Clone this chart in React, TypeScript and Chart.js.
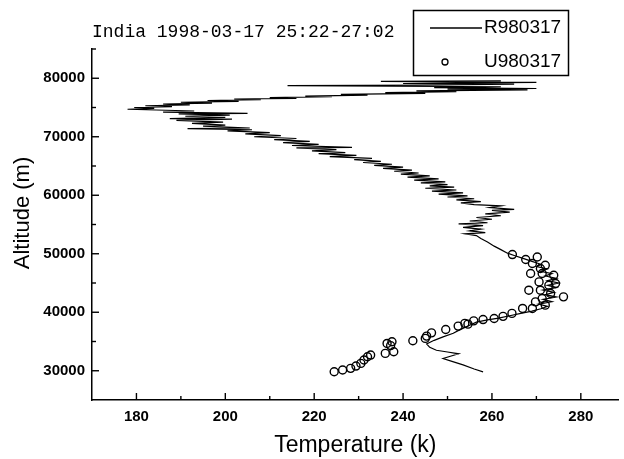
import React, { useEffect, useRef } from "react";
import { Chart, registerables } from "chart.js";

Chart.register(...registerables);

const titleText = "India 1998-03-17 25:22-27:02";
const seriesNames = ["R980317", "U980317"];
const xTitle = "Temperature (k)";
const yTitle = "Altitude (m)";

const xTickLabels = [180, 200, 220, 240, 260, 280];
const xMinorTicks = [190, 210, 230, 250, 270];
const yTickLabels = [30000, 40000, 50000, 60000, 70000, 80000];
const yMinorTicks = [35000, 45000, 55000, 65000, 75000, 85000];

// R980317 profile (temperature K, altitude m)
const rTemp = [
  258.0, 256.0, 253.5, 251.0, 249.0, 252.5, 250.0, 247.5, 246.0, 245.3,
  247.0, 249.0, 251.3, 252.5, 254.5, 256.5, 259.0, 261.5, 264.0, 266.5,
  269.0, 271.0, 272.5, 270.5, 273.5, 271.5, 274.5, 272.0, 274.0, 271.5,
  274.5, 272.5, 275.0, 272.5, 274.5, 272.0, 273.5, 271.0, 272.5, 270.0,
  271.0, 269.0, 267.0, 265.0, 263.5, 262.0, 260.5, 259.0, 257.5, 256.5,
  254.0, 258.5, 255.0, 257.5, 253.5, 258.0, 252.5, 259.0, 255.0, 260.0,
  256.5, 262.0, 258.5, 264.0, 260.0, 265.0, 259.5, 262.0, 256.0, 253.0,
  257.5, 252.0, 256.0, 250.0, 254.5, 248.0, 253.5, 246.5, 252.0, 245.0,
  251.5, 246.0, 250.0, 244.0, 249.5, 242.5, 248.0, 241.0, 246.0, 239.5,
  243.5, 238.0, 242.0, 235.5, 240.0, 233.5, 237.5, 231.0, 235.0, 229.0,
  233.0, 223.5, 229.5, 221.0, 227.0, 219.5, 225.0, 216.0, 228.5, 215.0,
  221.0, 213.0, 219.0, 211.0, 216.0, 206.5, 212.5, 204.5, 210.0, 200.5,
  206.0, 191.5, 205.5, 195.0, 200.0, 192.5, 199.5, 189.0, 201.5, 187.5,
  200.0, 191.0, 201.0, 189.5, 205.0, 186.0, 193.0, 178.0, 184.0, 179.5,
  188.0, 182.0, 192.0, 186.0, 197.0, 190.0, 203.0, 196.0, 208.0, 202.0,
  216.0, 210.0, 224.0, 218.0, 232.0, 226.0, 245.0, 236.0, 252.0, 243.0,
  268.0, 250.0, 270.0, 247.0, 262.0, 214.0, 248.0, 265.0, 240.0, 270.0,
  235.0, 262.0,
];
const rAlt = [
  29800, 30300, 31000, 31600, 32100, 32900, 33200, 33500, 34000, 34600,
  35200, 35800, 36400, 36900, 37600, 38300, 38700, 39000, 39400, 39800,
  40200, 40600, 41000, 41400, 41800, 42200, 42600, 43000, 43400, 43800,
  44200, 44600, 45000, 45400, 45800, 46200, 46600, 47000, 47400, 47800,
  48200, 48700, 49200, 49700, 50100, 50700, 51300, 52000, 52600, 53100,
  53400, 53600, 53900, 54200, 54500, 54800, 55100, 55300, 55600, 55900,
  56200, 56500, 56800, 57100, 57400, 57600, 57900, 58200, 58400, 58700,
  58900, 59200, 59400, 59700, 59900, 60200, 60400, 60700, 60900, 61200,
  61400, 61600, 61800, 62100, 62300, 62600, 62800, 63100, 63300, 63600,
  63800, 64100, 64300, 64600, 64800, 65100, 65300, 65600, 65800, 66100,
  66300, 66600, 66800, 67100, 67300, 67600, 67800, 68100, 68200, 68500,
  68700, 69000, 69200, 69500, 69700, 70000, 70200, 70500, 70700, 71000,
  71200, 71400, 71500, 71800, 72000, 72300, 72500, 72800, 73000, 73100,
  73300, 73500, 73700, 73900, 74000, 74200, 74400, 74700, 74850, 75000,
  75150, 75300, 75450, 75600, 75750, 75900, 76050, 76200, 76350, 76450,
  76550, 76700, 76850, 76950, 77100, 77250, 77400, 77550, 77700, 77850,
  78000, 78150, 78250, 78400, 78550, 78750, 78850, 79000, 79100, 79300,
  79450, 79550,
];

// U980317 points (temperature K, altitude m)
const uTemp = [
  224.5, 226.4, 228.2, 229.4, 230.5, 231.2, 232.0, 232.7, 236.0, 237.9,
  236.4, 237.5, 237.2, 242.2, 245.0, 245.3, 246.4, 249.6, 252.4, 253.9,
  254.6, 255.9, 258.0, 260.5, 262.5, 264.5, 266.9, 269.1, 269.8, 272.0,
  271.3, 276.1, 273.2, 268.3, 270.9, 272.8, 274.3, 270.6, 273.9, 271.3,
  268.7, 270.9, 272.0, 269.1, 267.6, 270.2, 264.6,
];
const uAlt = [
  29830, 30120, 30410, 30800, 31260, 31830, 32390, 32680, 32970, 33240,
  34670, 34950, 34300, 35120, 35530, 35920, 36480, 37060, 37630, 38090,
  37970, 38530, 38750, 38940, 39300, 39800, 40650, 40650, 41770, 41210,
  42350, 42630, 43210, 43770, 43770, 44620, 44910, 45190, 46330, 46620,
  46620, 47470, 48040, 48330, 49010, 49450, 49860,
];

const FONT = '"Liberation Sans", Arial, sans-serif';

const overlay = {
  id: "overlay",
  afterDraw(chart: any) {
    const { ctx, chartArea } = chart;
    const x = chart.scales.x;
    const y = chart.scales.y;
    ctx.save();
    ctx.strokeStyle = "#000";
    ctx.fillStyle = "#000";
    ctx.lineWidth = 1.4;
    const tick = (px: number, len: number, horiz: boolean) => {
      ctx.beginPath();
      if (horiz) {
        ctx.moveTo(px, chartArea.bottom);
        ctx.lineTo(px, chartArea.bottom - len);
      } else {
        ctx.moveTo(chartArea.left, px);
        ctx.lineTo(chartArea.left + len, px);
      }
      ctx.stroke();
    };
    xTickLabels.forEach((v) => tick(x.getPixelForValue(v), 7, true));
    xMinorTicks.forEach((v) => tick(x.getPixelForValue(v), 4, true));
    yTickLabels.forEach((v) => tick(y.getPixelForValue(v), 7, false));
    yMinorTicks.forEach((v) => tick(y.getPixelForValue(v), 4, false));

    // title
    ctx.font = '18px "Liberation Mono", monospace';
    ctx.textAlign = "left";
    ctx.textBaseline = "alphabetic";
    ctx.fillText(titleText, 92, 37);

    // axis titles
    ctx.font = "23px " + FONT;
    ctx.textAlign = "center";
    ctx.textBaseline = "middle";
    ctx.fillText(xTitle, (chartArea.left + chartArea.right) / 2, 446);
    ctx.font = "22px " + FONT;
    ctx.save();
    ctx.translate(23, 213);
    ctx.rotate(-Math.PI / 2);
    ctx.fillText(yTitle, 0, 0);
    ctx.restore();

    // legend
    ctx.lineWidth = 1.5;
    ctx.strokeRect(413.5, 10.5, 155, 65);
    ctx.lineWidth = 1.3;
    ctx.beginPath();
    ctx.moveTo(430, 28);
    ctx.lineTo(482, 28);
    ctx.stroke();
    ctx.beginPath();
    ctx.arc(445, 62, 3, 0, Math.PI * 2);
    ctx.stroke();
    ctx.font = "19px " + FONT;
    ctx.textAlign = "left";
    ctx.textBaseline = "middle";
    ctx.fillText(seriesNames[0], 484, 28);
    ctx.fillText(seriesNames[1], 484, 62);
    ctx.restore();
  },
};

export default function App() {
  const ref = useRef<HTMLCanvasElement | null>(null);
  useEffect(() => {
    if (!ref.current) return;
    const chart = new Chart(ref.current, {
      type: "scatter",
      data: {
        datasets: [
          {
            label: seriesNames[0],
            data: rTemp.map((t, i) => ({ x: t, y: rAlt[i] })),
            showLine: true,
            borderColor: "#000",
            borderWidth: 1.2,
            pointRadius: 0,
            tension: 0,
            order: 2,
          },
          {
            label: seriesNames[1],
            data: uTemp.map((t, i) => ({ x: t, y: uAlt[i] })),
            showLine: false,
            pointRadius: 4,
            pointBorderWidth: 1.4,
            pointBorderColor: "#000",
            pointBackgroundColor: "rgba(0,0,0,0)",
            order: 1,
          },
        ],
      },
      options: {
        responsive: false,
        maintainAspectRatio: false,
        animation: false,
        layout: { padding: { top: 49, right: 0, left: 0, bottom: 0 } },
        plugins: {
          legend: { display: false },
          title: { display: false },
          tooltip: { enabled: false },
        },
        scales: {
          x: {
            type: "linear",
            min: 170,
            max: 288.5,
            grid: { display: false, drawTicks: false },
            border: { display: true, color: "#000", width: 1.5 },
            ticks: {
              autoSkip: false,
              maxRotation: 0,
              padding: 8,
              color: "#000",
              font: { family: FONT, size: 15, weight: "bold" },
            },
            afterBuildTicks: (s: any) => {
              s.ticks = xTickLabels.map((v) => ({ value: v }));
            },
            afterFit: (s: any) => {
              s.height = 59;
            },
          },
          y: {
            type: "linear",
            min: 25000,
            max: 85000,
            grid: { display: false, drawTicks: false },
            border: { display: true, color: "#000", width: 1.5 },
            ticks: {
              autoSkip: false,
              padding: 7,
              color: "#000",
              font: { family: FONT, size: 15, weight: "bold" },
              callback: (v: any) => String(v),
            },
            afterBuildTicks: (s: any) => {
              s.ticks = yTickLabels.map((v) => ({ value: v }));
            },
            afterFit: (s: any) => {
              s.width = 92;
            },
          },
        },
      },
      plugins: [overlay],
    });
    return () => chart.destroy();
  }, []);
  return (
    <div style={{ position: "fixed", left: 0, top: 0, width: 624, height: 459, background: "#fff" }}>
      <canvas ref={ref} width={624} height={459} style={{ display: "block" }} />
    </div>
  );
}
